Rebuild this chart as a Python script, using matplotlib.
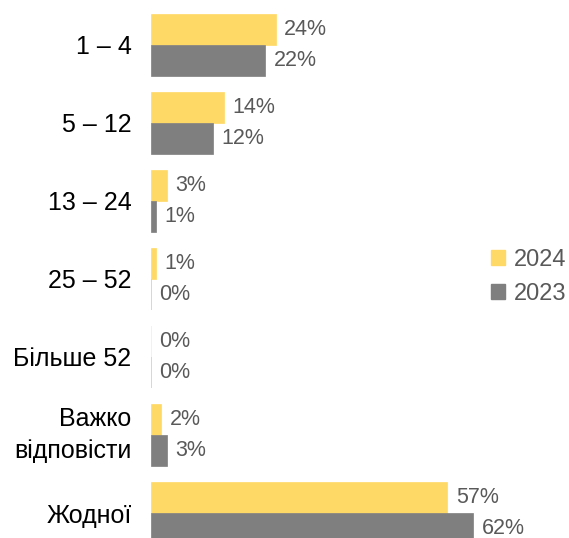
import numpy as np
import matplotlib
matplotlib.use("Agg")
import matplotlib.pyplot as plt
from matplotlib.patches import Patch

plt.rcParams['font.family'] = ['Liberation Sans', 'DejaVu Sans']

categories = ["1 – 4", "5 – 12", "13 – 24", "25 – 52", "Більше 52", "Важко\nвідповісти", "Жодної"]
vals_2024 = [24, 14, 3, 1, 0, 2, 57]
vals_2023 = [22, 12, 1, 0, 0, 3, 62]

yellow = "#FFD966"
grey = "#7F7F7F"
txt = "#595959"

fig = plt.figure(figsize=(5.69, 5.38), dpi=100)
ax = fig.add_axes([151 / 569, 0, (569 - 151) / 569, 1])

y = np.arange(len(categories))
h = 0.395
b1 = ax.barh(y - h / 2, vals_2024, height=h, color=yellow, linewidth=0.5)
b2 = ax.barh(y + h / 2, vals_2023, height=h, color=grey, linewidth=0.5)
# thin lines for the zero bars
for bars, col in [(b1, "#FFF0C0"), (b2, "#D0D0D0")]:
    for r in bars:
        if r.get_width() == 0:
            r.set_edgecolor(col)
            r.set_linewidth(1.2)
        else:
            r.set_edgecolor(r.get_facecolor())

for bars in (b1, b2):
    for r in bars:
        w = r.get_width()
        ax.annotate(f"{w:.0f}%", (w, r.get_y() + r.get_height() / 2),
                    textcoords="offset points", xytext=(6, 0),
                    ha="left", va="center", fontsize=15.5, color=txt)

ax.set_yticks(y)
ax.set_yticklabels(categories, fontsize=18, color="black", linespacing=1.45)
for lab in ax.get_yticklabels():
    if "\n" in lab.get_text():
        lab.set_verticalalignment("center")
ax.tick_params(axis="y", length=0, pad=14)
ax.set_xticks([])
for s in ax.spines.values():
    s.set_visible(False)

px = 78.0
ax.set_xlim(0, (569 - 151) / 5.2)
ax.set_ylim(6 + (538 - 513) / px, -45 / px)

handles = [Patch(color=yellow, label="2024"), Patch(color=grey, label="2023")]
leg = fig.legend(handles=handles, loc="center left", bbox_to_anchor=(491 / 569, 1 - 277 / 538),
                 frameon=False, fontsize=17, handlelength=0.6, handleheight=0.6,
                 handletextpad=0.35, labelspacing=0.5, borderpad=0, borderaxespad=0)
for t in leg.get_texts():
    t.set_color(txt)

fig.savefig("out.png", dpi=100)
